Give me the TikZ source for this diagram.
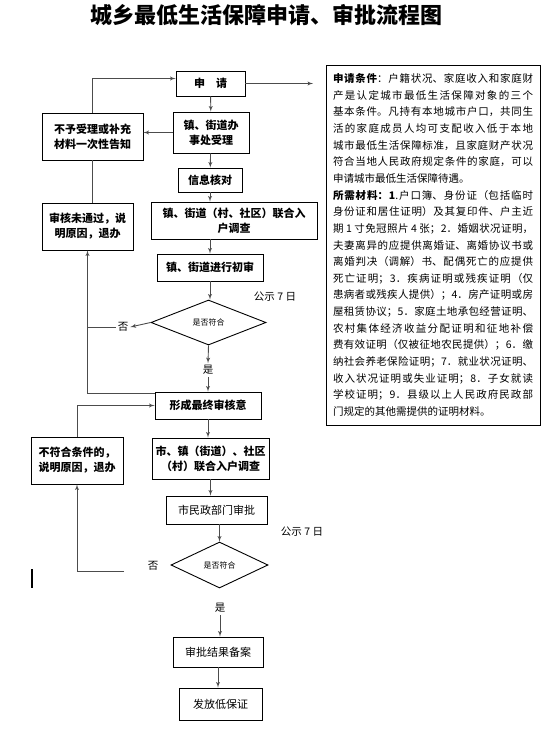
\documentclass[tikz,border=0pt]{standalone}
\usepackage{fontspec}
\setmainfont{Noto Sans CJK SC}
\usetikzlibrary{shapes.geometric, arrows, positioning, calc}
\XeTeXlinebreaklocale "zh"
\XeTeXlinebreakskip=0pt plus 2pt

\begin{document}
\begin{tikzpicture}[x=1pt, y=-1pt,
        box/.style={draw, line width=0.9pt, inner sep=1pt, align=center, font=\fontsize{11}{15}\selectfont\bfseries},
        plainbox/.style={draw, line width=0.9pt, inner sep=1pt, align=center, font=\fontsize{11}{15}\selectfont},
        dia/.style={draw, diamond, line width=0.9pt, inner sep=0pt, font=\fontsize{8}{10}\selectfont},
        lbl/.style={inner sep=2pt, font=\fontsize{10.5}{12}\selectfont},
        note/.style={draw, line width=0.9pt, inner xsep=7pt, inner ysep=4pt, text width=200pt, minimum height=360pt, align=justify, font=\fontsize{10.5}{16.65}\selectfont},
        arr/.style={draw=black!70, line width=0.9pt, -latex'},
        conn/.style={draw=black!70, line width=0.9pt}
    ]
    \useasboundingbox (0,0) rectangle (548,735);
    \node[font=\fontsize{22}{24}\selectfont\bfseries] (title) at (266,15) {城乡最低生活保障申请、审批流程图};

    \node[box, minimum width=69pt, minimum height=25pt] (apply) at (210.5,83.5) {申\quad 请};
    \node[box, minimum width=76pt, minimum height=41pt] (accept) at (211,132.5) {镇、街道办\\事处受理};
    \node[box, minimum width=101pt, minimum height=47pt] (reject) at (92.5,136.5) {不予受理或补充\\材料一次性告知};
    \node[box, minimum width=64pt, minimum height=24pt] (verify) at (210,180) {信息核对};
    \node[box, minimum width=166pt, minimum height=37pt] (survey1) at (234,220.5) {镇、街道（村、社区）联合入\\户调查};
    \node[box, minimum width=91pt, minimum height=47pt] (fail1) at (87.5,226.5) {审核未通过，说\\明原因，退办};
    \node[box, minimum width=106pt, minimum height=27pt] (prelim) at (210,267.5) {镇、街道进行初审};
    \node[dia, minimum width=115pt, minimum height=45pt] (check1) at (208.5,322.5) {是否符合};
    \node[lbl] (pub1) at (275,297) {公示 7 日};
    \node[lbl] (no1) at (123,327) {否};
    \node[lbl] (yes1) at (208,370) {是};
    \node[box, minimum width=106pt, minimum height=27pt] (final) at (208,405.5) {形成最终审核意};
    \node[box, minimum width=117pt, minimum height=41pt] (survey2) at (210.5,458.5) {市、镇（街道）、社区\\（村）联合入户调查};
    \node[box, minimum width=92pt, minimum height=47pt] (fail2) at (77,460.5) {不符合条件的，\\说明原因，退办};
    \node[plainbox, minimum width=101pt, minimum height=28pt] (city) at (216.5,510) {市民政部门审批};
    \node[lbl] (pub2) at (302,532) {公示 7 日};
    \node[dia, minimum width=97pt, minimum height=46pt] (check2) at (219.5,565) {是否符合};
    \node[lbl] (no2) at (153,566) {否};
    \node[lbl] (yes2) at (220,608) {是};
    \node[plainbox, minimum width=90pt, minimum height=30pt] (file) at (218,652) {审批结果备案};
    \node[plainbox, minimum width=83pt, minimum height=32pt] (issue) at (220.5,704) {发放低保证};

    \node[note] (cond) at (433,245) {\textbf{申请条件}：户籍状况、家庭收入和家庭财\linebreak
产是认定城市最低生活保障对象的三个\linebreak
基本条件。凡持有本地城市户口，共同生\linebreak
活的家庭成员人均可支配收入低于本地\linebreak
城市最低生活保障标准，且家庭财产状况\linebreak
符合当地人民政府规定条件的家庭，可以\linebreak
申请城市最低生活保障待遇。\par
\textbf{所需材料：1}.户口簿、身份证（包括临时\linebreak
身份证和居住证明）及其复印件、户主近\linebreak
期 1 寸免冠照片 4 张；2．婚姻状况证明，\linebreak
夫妻离异的应提供离婚证、离婚协议书或\linebreak
离婚判决（调解）书、配偶死亡的应提供\linebreak
死亡证明；3．疾病证明或残疾证明（仅\linebreak
患病者或残疾人提供）；4．房产证明或房\linebreak
屋租赁协议；5．家庭土地承包经营证明、\linebreak
农村集体经济收益分配证明和征地补偿\linebreak
费有效证明（仅被征地农民提供）；6．缴\linebreak
纳社会养老保险证明；7．就业状况证明、\linebreak
收入状况证明或失业证明；8．子女就读\linebreak
学校证明；9．县级以上人民政府民政部\linebreak
门规定的其他需提供的证明材料。};

    \coordinate (out) at (313,83.5);
    \coordinate (j1) at (fail1.south |- no1.west);
    \coordinate (n2) at (124,571);

    \draw[arr] (apply.east) -- (out);
    \draw[arr] (apply) -- (accept);
    \draw[arr] (accept.west) -- (accept.west -| reject.east);
    \draw[arr] (reject.north) |- ([yshift=5pt]apply.west);
    \draw[conn] (reject.south) -- (reject.south |- fail1.north);
    \draw[arr] (accept) -- (verify);
    \draw[arr] (verify.south) -- (verify.south |- survey1.north);
    \draw[arr] (prelim.north |- survey1.south) -- (prelim.north);
    \draw[arr] (prelim.south) -- (prelim.south |- check1.north);
    \draw[arr] (check1.west) -- (no1.east);
    \draw[arr] (no1.west) -| (fail1.south);
    \draw[conn] ([yshift=-2pt]final.north west) -| (j1);
    \draw[arr] (check1.south) -- (yes1.north);
    \draw[arr] (yes1.south) -- (final.north);
    \draw[arr] (fail2.north) |- (final.west);
    \draw[arr] (final.south) -- (final.south |- survey2.north);
    \draw[arr] (survey2.south) -- (survey2.south |- city.north);
    \draw[arr] (check2.north |- city.south) -- (check2.north);
    \draw[arr] (n2) -| (fail2.south);
    \draw[arr] (yes2.south) -- (yes2.south |- file.north);
    \draw[arr] (file.south) -- (file.south |- issue.north);
    \draw[line width=2pt] (32,569) -- (32,588);
\end{tikzpicture}
\end{document}
